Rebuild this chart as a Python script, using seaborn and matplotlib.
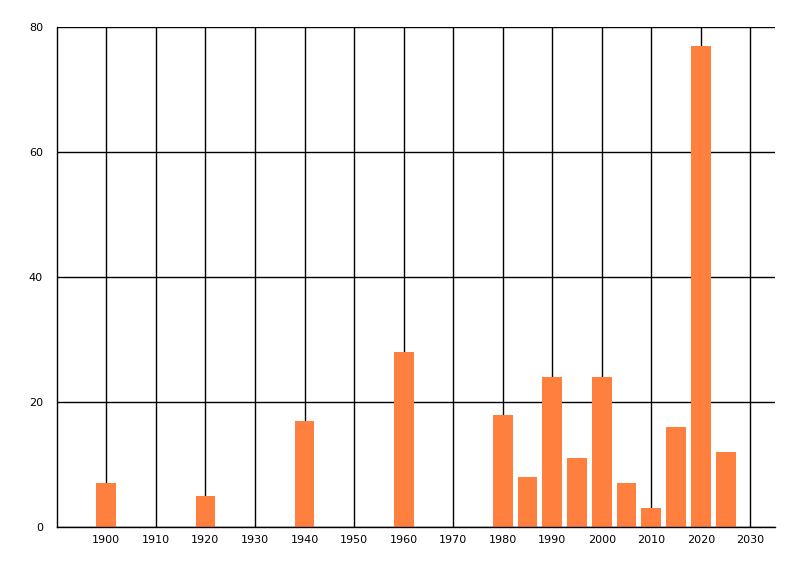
import matplotlib
matplotlib.use('Agg')
import matplotlib.pyplot as plt
import seaborn as sns
import pandas as pd

years = [1900, 1920, 1940, 1960, 1980, 1985, 1990, 1995, 2000, 2005, 2010, 2015, 2020, 2025]
counts = [7, 5, 17, 28, 18, 8, 24, 11, 24, 7, 3, 16, 77, 12]
x_ticks = list(range(1900, 2031, 10))
y_ticks = [0, 20, 40, 60, 80]

df = pd.DataFrame({'year': years, 'count': counts})

sns.set_style("white")
plt.rcParams['font.family'] = ['DejaVu Sans']

fig = plt.figure(figsize=(8, 5.76), dpi=100)
ax = fig.add_axes([0.071, 0.085, 0.898, 0.868])

sns.barplot(data=df, x='year', y='count', native_scale=True, width=0.8,
            color='#FF7F3F', saturation=1, linewidth=0, ax=ax, zorder=2)

ax.set_xlim(1890, 2035)
ax.set_ylim(0, 80)
ax.set_xticks(x_ticks)
ax.set_yticks(y_ticks)
ax.grid(True, color='black', linewidth=1)
ax.set_axisbelow(True)
for s in ['top', 'right']:
    ax.spines[s].set_visible(False)
for s in ['left', 'bottom']:
    ax.spines[s].set_color('black')
    ax.spines[s].set_linewidth(1)
ax.tick_params(axis='x', length=0, labelsize=8, pad=6, labelcolor='black')
ax.tick_params(axis='y', length=8, width=1, color='black', labelsize=8, pad=2,
               labelcolor='black')
ax.set_xlabel('')
ax.set_ylabel('')

fig.savefig('out.png', dpi=100)
